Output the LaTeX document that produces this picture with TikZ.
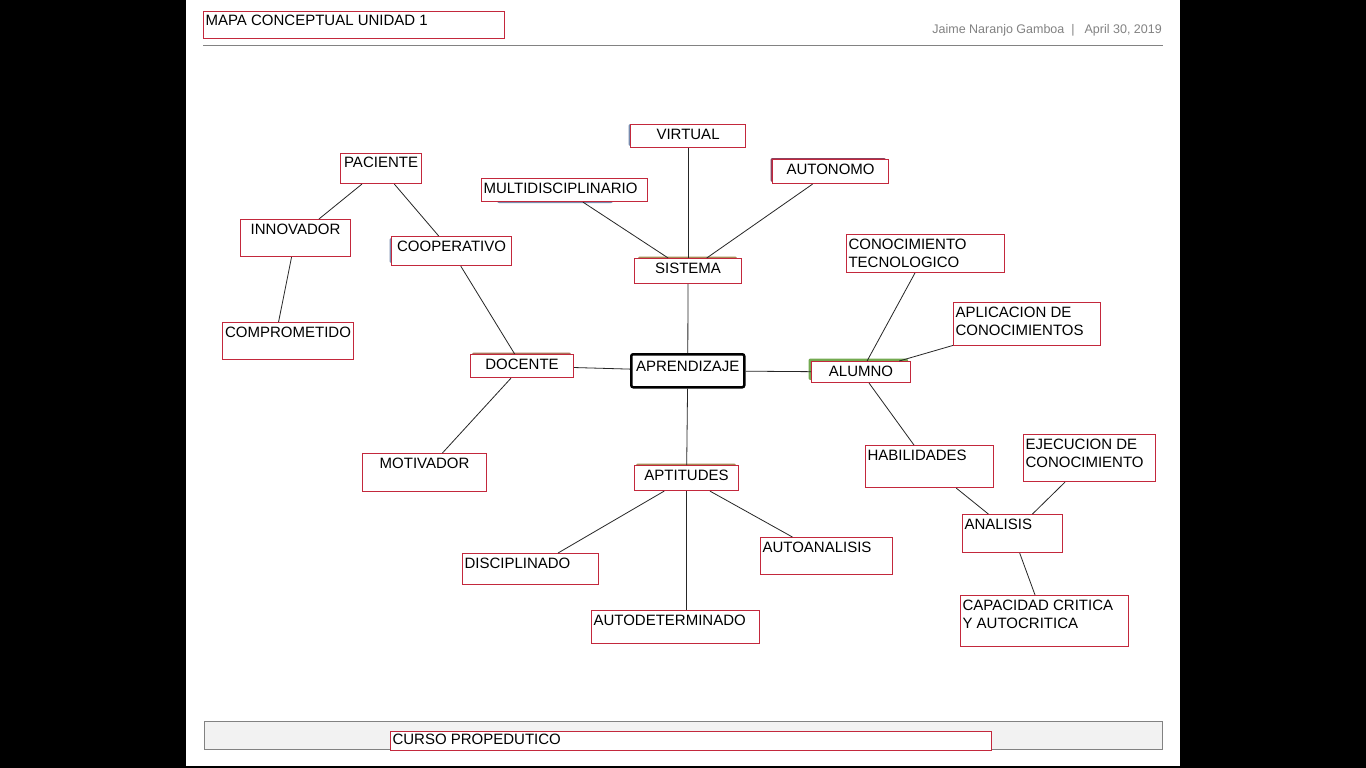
\documentclass[tikz,border=0pt]{standalone}
\usepackage{fontspec}
\setmainfont{Liberation Sans}
\definecolor{boxred}{RGB}{195,40,60}
\definecolor{softgray}{RGB}{130,130,130}
\definecolor{bargray}{RGB}{242,242,242}
\definecolor{blueshade}{RGB}{120,140,175}
\definecolor{greenshade}{RGB}{115,170,80}
\definecolor{oliveshade}{RGB}{165,140,85}
\definecolor{brownshade}{RGB}{170,115,90}
\definecolor{plumshade}{RGB}{140,65,95}
\newcommand{\cfont}{\fontsize{15}{18}\selectfont}
\newcommand{\ctr}[4][4.5pt]{\parbox[c][#3pt][t]{#2pt}{\centering\vspace*{#1}#4}}
\newcommand{\lft}[4][4.5pt]{\parbox[c][#3pt][t]{#2pt}{\raggedright\leftskip=2pt\vspace*{#1}#4}}
\tikzset{
  concept/.style={draw=boxred, line width=1.1pt, fill=white, inner sep=0pt, anchor=north west, font=\cfont},
  link/.style={draw=black!85, line width=0.8pt},
  ghost/.style={rounded corners=2pt}
}

\begin{document}
\begin{tikzpicture}[x=1pt, y=-1pt]
\useasboundingbox (0,0) rectangle (1366,768);
\fill[black] (0,0) rectangle (1366,768);
\fill[white] (186,0) rectangle (1180,766);

% header
\draw[softgray, line width=0.8pt] (203,45) -- (1163,45);
\node[anchor=east, inner sep=0pt, text=softgray, font=\fontsize{12.5}{14}\selectfont] (autor) at (1162,30)
  {Jaime Naranjo Gamboa\hspace{7pt}|\hspace{10pt}April 30, 2019};

% footer
\draw[softgray, line width=0.9pt, fill=bargray] (204,721) rectangle (1162,749);

% shades behind some boxes
\fill[ghost, blueshade] (628.5,124) rectangle (743,146);
\fill[ghost, blueshade] (497,183) rectangle (613,203);
\fill[ghost, oliveshade] (638,256.5) rectangle (737,280);
\fill[ghost, plumshade] (770.5,158) rectangle (886,182);
\fill[ghost, blueshade] (389.5,238) rectangle (509,263);
\fill[ghost, brownshade] (472,352.5) rectangle (571,375);
\fill[ghost, greenshade] (808.5,358.5) rectangle (908,380);
\fill[ghost, oliveshade] (636,463.5) rectangle (736,488);

% concepts
\node[concept] (titulo) at (203,11) {\lft[3.5pt]{301}{27}{MAPA CONCEPTUAL UNIDAD 1}};
\node[concept] (virtual) at (630,124) {\ctr{115}{23}{VIRTUAL}};
\node[concept] (autonomo) at (772,159) {\ctr{116}{24}{AUTONOMO}};
\node[concept] (multi) at (481,178) {\lft{166}{23}{MULTIDISCIPLINARIO}};
\node[concept] (sistema) at (634,258) {\ctr{107}{25}{SISTEMA}};
\node[concept] (paciente) at (340,153) {\ctr[3pt]{81}{30}{PACIENTE}};
\node[concept] (innovador) at (240,219) {\ctr{110}{37}{INNOVADOR}};
\node[concept] (cooperativo) at (391,236) {\ctr{120}{29}{COOPERATIVO}};
\node[concept] (comprometido) at (222,322) {\ctr{131}{37}{COMPROMETIDO}};
\node[concept] (conotec) at (846,234) {\lft{158}{38}{CONOCIMIENTO\\TECNOLOGICO}};
\node[concept] (aplicacion) at (953,302) {\lft{147}{43}{APLICACION DE\\CONOCIMIENTOS}};
\node[concept] (docente) at (470,354) {\ctr{103}{23}{DOCENTE}};
\node[concept, draw=black, line width=2.5pt, rounded corners=2pt] (aprendizaje) at (630,353)
  {\ctr[7pt]{113}{33}{APRENDIZAJE}};
\node[concept] (alumno) at (811,361) {\ctr{99}{21}{ALUMNO}};
\node[concept] (motivador) at (362,453) {\ctr{124}{38}{MOTIVADOR}};
\node[concept] (aptitudes) at (634,465) {\ctr{104}{25}{APTITUDES}};
\node[concept] (habilidades) at (865,445) {\lft{128}{42}{HABILIDADES}};
\node[concept] (ejecucion) at (1023,434) {\lft{132}{47}{EJECUCION DE\\CONOCIMIENTO}};
\node[concept] (analisis) at (962,514) {\lft{100}{38}{ANALISIS}};
\node[concept] (disciplinado) at (462,553) {\lft{136}{31}{DISCIPLINADO}};
\node[concept] (autoanalisis) at (760,537) {\lft{132}{37}{AUTOANALISIS}};
\node[concept] (autodeterminado) at (591,610) {\lft{168}{33}{AUTODETERMINADO}};
\node[concept] (capacidad) at (960,595) {\lft{168}{51}{CAPACIDAD CRITICA\\Y AUTOCRITICA}};
\node[concept] (curso) at (390,731) {\lft[2pt]{601}{19}{CURSO PROPEDUTICO}};

% links
\draw[link] (virtual) -- (sistema);
\draw[link] (multi) -- (sistema);
\draw[link] (autonomo) -- (sistema);
\draw[link] (sistema) -- (aprendizaje);
\draw[link] (aprendizaje) -- (docente);
\draw[link] (aprendizaje) -- (alumno);
\draw[link] (aprendizaje) -- (aptitudes);
\draw[link] (docente) -- (cooperativo);
\draw[link] (cooperativo) -- (paciente);
\draw[link] (paciente) -- (innovador);
\draw[link] ([xshift=-4pt]innovador.south) -- ([xshift=-9.5pt]comprometido.north);
\draw[link] (docente) -- (motivador);
\draw[link] (alumno) -- (conotec);
\draw[link] (alumno) -- (aplicacion);
\draw[link] (alumno) -- (habilidades);
\draw[link] (habilidades) -- (analisis);
\draw[link] (ejecucion) -- (analisis);
\draw[link] (analisis) -- (capacidad);
\draw[link] (aptitudes) -- (disciplinado);
\draw[link] (aptitudes) -- (autoanalisis);
\draw[link] (aptitudes.south) -- (aptitudes.south |- autodeterminado.north);
\end{tikzpicture}
\end{document}
